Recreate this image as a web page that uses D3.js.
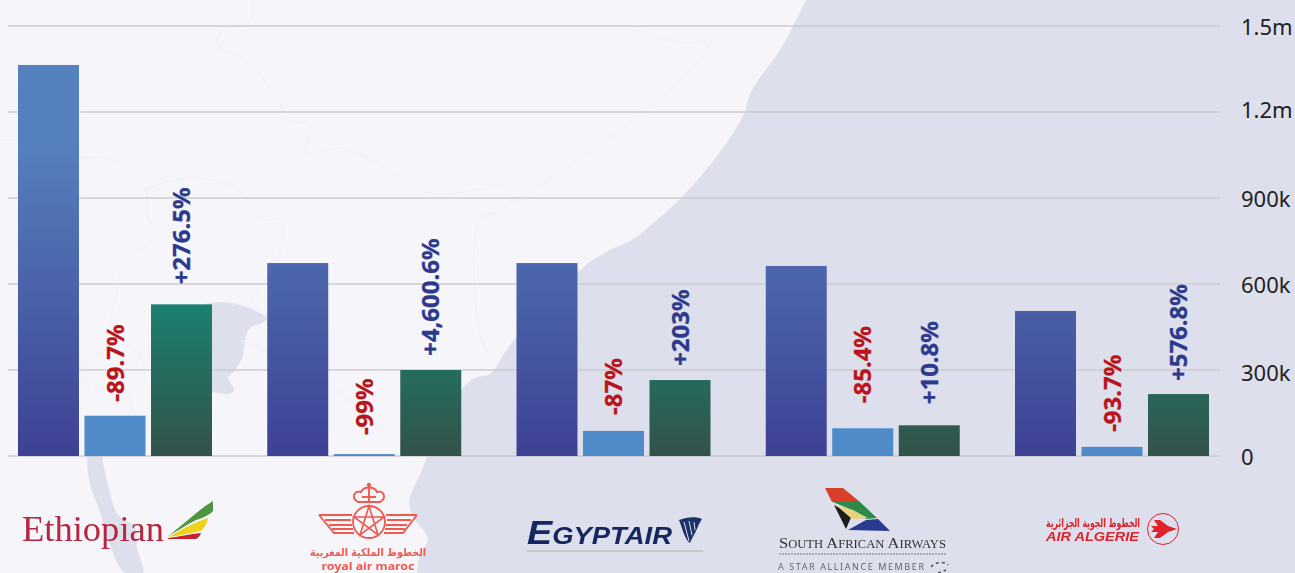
<!DOCTYPE html>
<html>
<head>
<meta charset="utf-8">
<script src="https://cdn.jsdelivr.net/npm/d3@7/dist/d3.min.js"></script>
<style>
  html, body { margin: 0; padding: 0; background: #f5f5fa; overflow: hidden; }
  svg { display: block; }
  text { font-family: "Noto Sans", "Open Sans", sans-serif; }
</style>
</head>
<body>
<svg id="chart" width="1295" height="573"></svg>
<script>
// Passenger numbers per airline and the percentage change between periods
const airlines = ["Ethiopian", "Royal Air Maroc", "EgyptAir", "South African Airways", "Air Algerie"];
const seriesKeys = ["before", "during", "after"];
const before = [1364000, 673000, 673000, 663000, 506000];
const during = [140500, 6700, 87500, 96800, 31900];
const after = [529000, 300000, 265000, 107000, 216000];
const duringChange = ["-89.7%", "-99%", "-87%", "-85.4%", "-93.7%"];
const afterChange = ["+276.5%", "+4,600.6%", "+203%", "+10.8%", "+576.8%"];
const tickValues = [0, 300000, 600000, 900000, 1200000, 1500000];
const tickLabels = ["0", "300k", "600k", "900k", "1.2m", "1.5m"];

const svg = d3.select("#chart");
const width = 1295, height = 573;

const x = d3.scaleBand().domain(airlines).range([18, 1209]).paddingInner(0.2217).paddingOuter(0);
const xInner = d3.scaleBand().domain(seriesKeys).range([0, x.bandwidth()]).paddingInner(0.083).paddingOuter(0);
const y = d3.scaleLinear().domain([0, 1500000]).range([456, 26]);

const defs = svg.append("defs");

// Gradients run in page space so that shorter bars only reach the darker end
function verticalGradient(id, y1, y2, stops) {
  const g = defs.append("linearGradient").attr("id", id)
    .attr("gradientUnits", "userSpaceOnUse")
    .attr("x1", 0).attr("x2", 0).attr("y1", y1).attr("y2", y2);
  stops.forEach(([o, c]) => g.append("stop").attr("offset", o).attr("stop-color", c));
}
verticalGradient("gradBefore", 65, 456, [[0, "#5681c0"], [0.2, "#5580be"], [1, "#3e4194"]]);
verticalGradient("gradAfter", 304, 456, [[0, "#1a8070"], [1, "#33524a"]]);
defs.append("filter").attr("id", "soft").attr("x", "-5%").attr("y", "-5%").attr("width", "110%").attr("height", "110%")
  .append("feGaussianBlur").attr("stdDeviation", 0.55);

// Backdrop map: sea and island shapes with faint country borders
const bg = svg.append("g");
bg.append("rect").attr("width", width).attr("height", height).attr("fill", "#f5f5fa");
const land = "#dddfec";
const curve = d3.line().curve(d3.curveCatmullRom.alpha(0.5));
const seaCoast = [[806, 0], [793, 26], [780, 50], [764, 72], [752, 90], [748, 100], [745, 112], [735, 130], [710, 165],
  [680, 199], [650, 226], [632, 240], [610, 250], [590, 262], [575, 275], [555, 292], [530, 320], [505, 352], [490, 374],
  [478, 377], [470, 381], [461, 390], [445, 420], [428, 455], [422, 470], [409, 503], [415, 520], [428, 538], [420, 555], [417, 573]];
bg.append("path").attr("fill", land)
  .attr("d", curve(seaCoast) + "L1295,573L1295,0Z");
const island = [[205, 304], [220, 302], [240, 305], [258, 312], [267, 318], [262, 323], [250, 328], [245, 340], [243, 355],
  [235, 370], [228, 378], [234, 390], [228, 394], [205, 390]];
bg.append("path").attr("fill", land).attr("d", curve(island) + "Z");
const strip = [[87, 450], [89, 480], [100, 512], [110, 545], [125, 573], [143, 573], [137, 548], [135, 527], [118, 515], [108, 485], [101, 450]];
bg.append("path").attr("fill", land).attr("d", curve(strip) + "Z");
const borders = [
  [[253, 0], [250, 22], [225, 28], [217, 45], [246, 60], [275, 95], [290, 120], [310, 125], [307, 153], [340, 148], [380, 165], [430, 193], [500, 185]],
  [[630, 28], [680, 43], [707, 44], [707, 50], [640, 115], [500, 210], [480, 220], [480, 335], [495, 365]],
  [[0, 140], [12, 140], [80, 158], [110, 158], [145, 190], [147, 215], [155, 235], [125, 262], [115, 300], [105, 350]],
  [[145, 190], [175, 180], [230, 185], [265, 220], [280, 220], [278, 260], [250, 300]],
  [[90, 390], [85, 365], [130, 345], [145, 375], [130, 395], [135, 415]],
  [[240, 340], [330, 385], [420, 470]]
];
bg.selectAll("path.border").data(borders).join("path").attr("class", "border")
  .attr("fill", "none").attr("stroke", "#f0f0f6").attr("stroke-width", 1)
  .attr("d", d => curve(d));

// Horizontal grid lines and right-hand axis labels
svg.append("g").selectAll("line").data(tickValues).join("line")
  .attr("x1", 8).attr("x2", 1220)
  .attr("y1", d => y(d)).attr("y2", d => y(d))
  .attr("stroke", "#cbcbd0").attr("stroke-width", 1.4);
const tickLabelShift = [1, 3, 1, 1, -2, 1];
svg.append("g").selectAll("text").data(tickValues).join("text")
  .attr("x", 1241).attr("y", (d, i) => y(d) + tickLabelShift[i]).attr("dy", "0.36em")
  .attr("font-size", 22).attr("fill", "#222")
  .text((d, i) => tickLabels[i]);

// Three bars per airline
const groups = svg.append("g").selectAll("g").data(airlines).join("g")
  .attr("transform", d => `translate(${x(d)},0)`);
const seriesValues = { before, during, after };
const seriesFill = { before: "url(#gradBefore)", during: "#4f8ac9", after: "url(#gradAfter)" };
seriesKeys.forEach(key => {
  groups.append("rect")
    .attr("x", xInner(key))
    .attr("width", xInner.bandwidth())
    .attr("y", (d, i) => y(seriesValues[key][i]))
    .attr("height", (d, i) => y(0) - y(seriesValues[key][i]))
    .attr("fill", seriesFill[key]);
});

// Rotated percentage labels above the second and third bars
const duringGap = [14, 19, 16, 25, 15];
const afterGap = [20, 14, 14, 21, 13];
function changeLabels(key, labels, color, gaps) {
  groups.append("text")
    .attr("transform", (d, i) => `translate(${xInner(key) + xInner.bandwidth() / 2},${y(seriesValues[key][i]) - gaps[i]}) rotate(-90)`)
    .attr("dy", "0.36em")
    .attr("font-size", 24).attr("font-weight", 700).attr("fill", color)
    .attr("stroke", color).attr("stroke-width", 0.3)
    .text((d, i) => labels[i]);
}
changeLabels("during", duringChange, "#b8141a", duringGap);
changeLabels("after", afterChange, "#2b3a8c", afterGap);

// Airline marks under the axis
const logos = svg.append("g").attr("filter", "url(#soft)");

// Ethiopian
const eth = logos.append("g");
eth.append("text").attr("x", 22).attr("y", 541).attr("font-size", 36)
  .style("font-family", "'Liberation Serif', serif").attr("fill", "#b5283f")
  .attr("textLength", 142).attr("lengthAdjust", "spacingAndGlyphs").text("Ethiopian");
eth.append("path").attr("fill", "#4f9440").attr("d", "M167,537 C182,526 198,510 213,501 L213,511 C209,515 205,517 196,520 C186,525 177,531 167,537Z");
eth.append("path").attr("fill", "#eed21f").attr("d", "M169,537 C180,530 195,522 208,518 C207,524 204,528 201,531 C190,533 178,536 169,537Z");
eth.append("path").attr("fill", "#c4202f").attr("d", "M168,538 C178,537 190,534 201,533 C200,536 198,538 196,539 L168,539Z");

// Royal Air Maroc
const ram = logos.append("g").attr("fill", "none").attr("stroke", "#ef5a50");
ram.append("circle").attr("cx", 369).attr("cy", 522).attr("r", 16).attr("stroke-width", 1.8);
ram.append("path").attr("stroke-width", 1.6)
  .attr("d", "M369,506 L378,535 L354,517 L384,517 L360,535Z");
ram.append("path").attr("stroke-width", 1.9)
  .attr("d", "M358,502 C351,498 354,490 361,492 C364,486 374,486 377,492 C384,490 387,498 380,502 Z M362,497 L376,497 M369,486 L369,502");
ram.append("circle").attr("cx", 369).attr("cy", 485).attr("r", 1.8).attr("fill", "#ef5a50");
ram.append("path").attr("stroke-width", 1.8)
  .attr("d", "M319,515 L352,515 M417,515 L386,515 M319,515 L334,533 L354,533 M417,515 L403,533 L384,533 M325,520 L351,520 M411,520 L387,520 M329,525 L352,525 M407,525 L386,525 M332,529 L353,529 M405,529 L385,529");
logos.append("text").attr("x", 368).attr("y", 556).attr("text-anchor", "middle")
  .attr("font-size", 11).attr("font-weight", 700).attr("fill", "#ef5a50").attr("direction", "rtl")
  .style("font-family", "'DejaVu Sans', sans-serif").attr("textLength", 116).attr("lengthAdjust", "spacingAndGlyphs").text("الخطوط الملكية المغربية");
logos.append("text").attr("x", 368).attr("y", 569.5).attr("text-anchor", "middle")
  .attr("font-size", 10.5).attr("font-weight", 700).attr("fill", "#ef5a50")
  .attr("textLength", 93).attr("lengthAdjust", "spacingAndGlyphs").text("royal air maroc");

// EgyptAir
const egy = logos.append("text").attr("x", 527).attr("y", 544).attr("font-weight", 700)
  .attr("font-style", "italic").attr("fill", "#12275f").attr("font-size", 24)
  .style("font-family", "'Liberation Sans', sans-serif").attr("textLength", 145).attr("lengthAdjust", "spacingAndGlyphs");
egy.append("tspan").attr("font-size", 33).text("E");
egy.append("tspan").text("GYPTAIR");
logos.append("path").attr("fill", "#1a3168").attr("d", "M679,520 C686,517 696,516 702,519 L699,524 C697,530 692,538 690,543 C685,540 683,530 679,520Z");
logos.append("path").attr("fill", "none").attr("stroke", "#dddfec").attr("stroke-width", 1).attr("d", "M684,522 L689,541 M689,521 L692,535 M694,522 L695,530");
logos.append("line").attr("x1", 527).attr("x2", 703).attr("y1", 551).attr("y2", 551).attr("stroke", "#c9c9c9").attr("stroke-width", 2);

// South African Airways
const saa = logos.append("g");
saa.append("path").attr("fill", "#d8402a").attr("d", "M825,488 L843,488 L860,502 L832,502Z");
saa.append("path").attr("fill", "#2f8a4a").attr("d", "M833,502 L860,502 L877,518 L866,519 L852,510Z");
saa.append("path").attr("fill", "#1a1a1a").attr("d", "M834,505 L852,515 L846,529Z");
saa.append("path").attr("fill", "#e8d27a").attr("d", "M837,506 L853,510 L868,518 L852,519Z");
saa.append("path").attr("fill", "#2c3a8f").attr("d", "M848,530 L866,520 L878,519 L890,531Z");
const saaName = saa.append("text").attr("x", 779).attr("y", 548).attr("font-size", 11.5).attr("fill", "#333")
  .style("font-family", "'Liberation Serif', serif").attr("textLength", 167).attr("lengthAdjust", "spacingAndGlyphs");
[["S", 15], ["OUTH ", 11.5], ["A", 15], ["FRICAN ", 11.5], ["A", 15], ["IRWAYS", 11.5]].forEach(([t, s]) =>
  saaName.append("tspan").attr("font-size", s).text(t));
saa.append("line").attr("x1", 779).attr("x2", 946).attr("y1", 554).attr("y2", 554).attr("stroke", "#777").attr("stroke-width", 1.2).attr("stroke-dasharray", "2 1");
saa.append("text").attr("x", 778).attr("y", 570).attr("font-size", 9).attr("fill", "#666")
  .attr("textLength", 146).text("A STAR ALLIANCE MEMBER");
saa.append("path").attr("fill", "none").attr("stroke", "#555").attr("stroke-width", 1.6).attr("stroke-dasharray", "3 3")
  .attr("d", "M931,567 C935,562 944,561 948,565 M938,573 L946,570");

// Air Algerie
const alg = logos.append("g").attr("fill", "#e0202a");
alg.append("text").attr("x", 1093).attr("y", 527).attr("text-anchor", "middle").attr("font-size", 12).attr("font-weight", 700)
  .attr("direction", "rtl").style("font-family", "'DejaVu Sans', sans-serif").attr("textLength", 94).attr("lengthAdjust", "spacingAndGlyphs").text("الخطوط الجوية الجزائرية");
alg.append("text").attr("x", 1046).attr("y", 541).attr("font-size", 13).attr("font-weight", 700).attr("font-style", "italic")
  .style("font-family", "'Liberation Sans', sans-serif").attr("textLength", 93).attr("lengthAdjust", "spacingAndGlyphs").text("AIR ALGERIE");
alg.append("circle").attr("cx", 1163).attr("cy", 529).attr("r", 15.5).attr("fill", "none").attr("stroke", "#e0202a").attr("stroke-width", 1);
alg.append("path").attr("d", "M1151,526 L1158,526 L1154,520 L1160,520 L1168,526 L1177,529 L1168,532 L1160,538 L1154,538 L1158,532 L1151,532 L1154,529Z");
</script>
</body>
</html>
